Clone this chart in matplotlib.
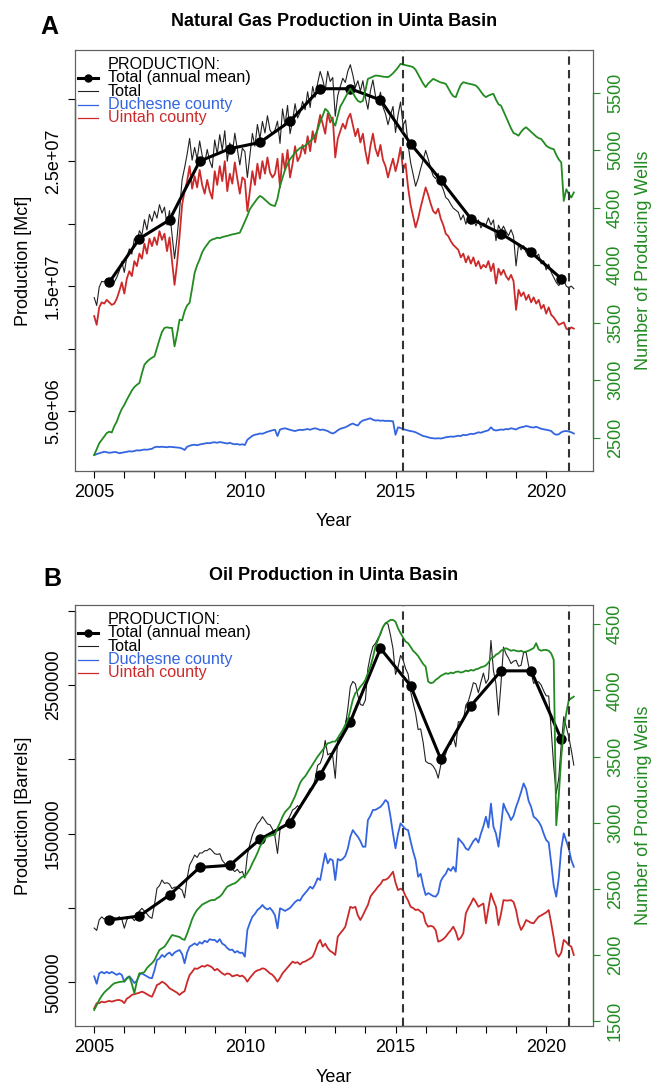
import matplotlib
matplotlib.use("Agg")
import matplotlib.pyplot as plt
from matplotlib.lines import Line2D
import numpy as np

plt.rcParams['font.family'] = ['Liberation Sans', 'DejaVu Sans']

# monthly values, Jan 2005 .. Dec 2020 (one row per year)
years = list(range(2005, 2021))
event_dates = [2015.25, 2020.75]

# natural gas, million Mcf per month
gas_duchesne = [
    1.48, 1.55, 1.62, 1.68, 1.74, 1.70, 1.66, 1.68, 1.72, 1.70, 1.62, 1.66,
    1.70, 1.74, 1.78, 1.76, 1.80, 1.86, 1.84, 1.88, 1.92, 1.90, 1.94, 1.98,
    2.10, 2.14, 2.12, 2.14, 2.12, 2.10, 2.14, 2.12, 2.10, 2.08, 2.06, 2.00,
    1.88, 2.14, 2.22, 2.28, 2.30, 2.26, 2.32, 2.36, 2.40, 2.44, 2.42, 2.48,
    2.50, 2.46, 2.52, 2.48, 2.44, 2.40, 2.46, 2.38, 2.34, 2.36, 2.30, 2.34,
    2.28, 2.70, 2.86, 3.02, 3.10, 3.14, 3.20, 3.18, 3.26, 3.34, 3.40, 3.46,
    3.50, 3.00, 3.52, 3.58, 3.62, 3.56, 3.50, 3.44, 3.40, 3.46, 3.50, 3.48,
    3.52, 3.56, 3.50, 3.58, 3.62, 3.56, 3.48, 3.52, 3.46, 3.40, 3.28, 3.20,
    3.30, 3.46, 3.58, 3.64, 3.70, 3.80, 3.92, 4.00, 3.90, 3.84, 4.10, 4.24,
    4.30, 4.36, 4.42, 4.30, 4.24, 4.26, 4.22, 4.24, 4.20, 4.22, 4.20, 4.18,
    3.10, 3.70, 3.64, 3.56, 3.50, 3.44, 3.40, 3.36, 3.30, 3.20, 3.10, 3.00,
    2.96, 2.90, 2.84, 2.82, 2.80, 2.82, 2.80, 2.84, 2.90, 2.92, 2.96, 2.94,
    2.98, 3.02, 3.00, 3.10, 3.06, 3.12, 3.18, 3.16, 3.22, 3.30, 3.26, 3.34,
    3.40, 3.46, 3.70, 3.50, 3.44, 3.48, 3.52, 3.50, 3.56, 3.54, 3.62, 3.58,
    3.52, 3.64, 3.70, 3.74, 3.80, 3.76, 3.70, 3.68, 3.74, 3.66, 3.58, 3.54,
    3.50, 3.46, 3.40, 3.20, 3.10, 3.14, 3.30, 3.38, 3.40, 3.36, 3.30, 3.20,
]
gas_uintah = [
    12.6, 11.9, 13.3, 13.7, 13.6, 13.9, 13.7, 13.5, 13.6, 14.0, 14.6, 15.3,
    14.4, 15.6, 16.2, 15.8, 17.0, 16.6, 17.6, 17.2, 18.4, 17.6, 18.8, 18.2,
    18.9, 18.3, 19.4, 18.7, 19.2, 17.8, 18.9, 17.0, 15.1, 16.8, 19.0, 21.5,
    22.6, 23.4, 24.6, 22.8, 23.8, 22.9, 24.3, 23.1, 22.4, 23.5, 22.6, 22.0,
    24.2, 23.1, 24.6, 23.4, 25.0, 22.6, 24.0, 23.2, 24.9, 23.6, 22.4, 23.7,
    23.5, 21.0, 22.6, 24.2, 23.1, 24.8, 23.6, 25.0, 24.0, 25.3, 24.1, 23.7,
    24.0, 25.2, 22.9, 25.6, 24.3, 25.9, 23.7, 24.8, 26.2, 25.0, 25.4, 26.3,
    25.6, 27.0, 25.8, 27.4, 26.5, 27.7, 28.7, 28.0, 27.2, 28.8, 28.1, 28.5,
    25.3, 26.8, 27.4, 28.0, 27.6, 28.4, 28.8, 27.9, 27.0, 27.6, 26.5, 27.2,
    25.8, 24.8, 26.2, 27.2, 26.0, 25.4, 26.3, 25.1, 24.6, 23.7, 24.5, 25.2,
    24.2, 25.0, 26.1, 24.3, 24.8, 22.9, 21.5, 20.6, 19.7, 20.4, 21.3, 22.1,
    22.9, 22.3, 21.6, 21.0, 20.8, 21.2, 20.4, 19.9, 19.2, 19.0, 18.6, 18.3,
    18.1, 17.9, 17.3, 17.6, 16.9, 17.4, 16.8, 17.3, 16.6, 17.0, 16.4, 16.7,
    16.5, 17.0, 16.2, 16.8, 15.2, 16.4, 15.9, 16.3, 15.8, 15.5, 15.9, 15.4,
    13.1, 14.7, 14.2, 14.5, 13.9, 14.3, 13.7, 14.1, 13.6, 13.9, 13.2, 13.5,
    12.8, 13.3, 12.7, 12.5, 12.2, 11.9, 12.0, 12.1, 11.6, 11.5, 11.7, 11.6,
]
gas_wells = [
    2349, 2400, 2451, 2480, 2510, 2540, 2552, 2545, 2600, 2640, 2700, 2750,
    2785, 2830, 2870, 2910, 2940, 2960, 2975, 3060, 3134, 3160, 3180, 3195,
    3207, 3280, 3353, 3420, 3455, 3460, 3455, 3455, 3294, 3400, 3527, 3520,
    3600, 3650, 3673, 3800, 3934, 4000, 4051, 4112, 4150, 4180, 4210, 4224,
    4230, 4240, 4235, 4245, 4250, 4255, 4262, 4268, 4272, 4278, 4283, 4330,
    4380, 4430, 4487, 4520, 4550, 4580, 4603, 4590, 4570, 4550, 4530, 4520,
    4515, 4580, 4690, 4760, 4830, 4880, 4923, 4950, 4980, 5000, 5020, 5030,
    5039, 5060, 5080, 5100, 5130, 5180, 5250, 5300, 5360, 5340, 5300, 5250,
    5214, 5300, 5380, 5418, 5460, 5500, 5534, 5500, 5460, 5430, 5418, 5430,
    5520, 5621, 5630, 5640, 5650, 5648, 5645, 5640, 5638, 5636, 5650, 5670,
    5694, 5720, 5752, 5745, 5740, 5735, 5730, 5723, 5700, 5660, 5620, 5580,
    5549, 5580, 5600, 5621, 5610, 5600, 5590, 5585, 5578, 5540, 5500, 5470,
    5462, 5520, 5570, 5592, 5585, 5580, 5575, 5570, 5563, 5540, 5510, 5480,
    5462, 5475, 5485, 5490, 5440, 5400, 5388, 5340, 5290, 5240, 5190, 5150,
    5140, 5127, 5160, 5185, 5200, 5180, 5160, 5140, 5120, 5105, 5098, 5070,
    5040, 5025, 5015, 5010, 4960, 4920, 4894, 4559, 4661, 4620, 4589, 4633,
]
gas_annual_mean = [15.3, 18.8, 20.3, 25.0, 26.0, 26.5, 28.2, 30.8,
                   30.8, 29.9, 26.4, 23.5, 20.4, 19.2, 17.7, 15.6]

# oil, million barrels per month
oil_duchesne = [
    0.54, 0.49, 0.56, 0.57, 0.56, 0.57, 0.56, 0.57, 0.56, 0.55, 0.56, 0.55,
    0.504, 0.53, 0.54, 0.52, 0.495, 0.51, 0.55, 0.56, 0.55, 0.54, 0.53, 0.527,
    0.58, 0.65, 0.66, 0.684, 0.67, 0.69, 0.70, 0.68, 0.70, 0.71, 0.717, 0.69,
    0.628, 0.70, 0.74, 0.75, 0.762, 0.75, 0.77, 0.76, 0.78, 0.77, 0.79, 0.785,
    0.785, 0.77, 0.79, 0.76, 0.75, 0.73, 0.717, 0.72, 0.70, 0.71, 0.697, 0.70,
    0.672, 0.852, 0.90, 0.941, 0.96, 0.986, 1.00, 1.02, 1.00, 0.99, 1.00, 0.98,
    0.95, 0.863, 0.998, 0.99, 0.98, 0.99, 1.00, 1.02, 1.04, 1.053, 1.05, 1.08,
    1.10, 1.12, 1.143, 1.13, 1.16, 1.20, 1.188, 1.28, 1.367, 1.30, 1.33, 1.32,
    1.188, 1.33, 1.32, 1.33, 1.35, 1.40, 1.479, 1.524, 1.50, 1.479, 1.45, 1.412,
    1.412, 1.591, 1.62, 1.659, 1.66, 1.67, 1.68, 1.70, 1.726, 1.71, 1.614, 1.50,
    1.401, 1.50, 1.569, 1.55, 1.53, 1.524, 1.45, 1.38, 1.322, 1.21, 1.23, 1.15,
    1.087, 1.10, 1.09, 1.08, 1.076, 1.10, 1.18, 1.21, 1.23, 1.266, 1.25, 1.277,
    1.244, 1.468, 1.45, 1.43, 1.40, 1.39, 1.42, 1.45, 1.468, 1.44, 1.50, 1.55,
    1.614, 1.54, 1.702, 1.546, 1.50, 1.412, 1.55, 1.702, 1.66, 1.63, 1.591, 1.62,
    1.68, 1.726, 1.78, 1.838, 1.80, 1.72, 1.68, 1.614, 1.60, 1.58, 1.55, 1.50,
    1.457, 1.44, 1.30, 1.15, 1.076, 1.20, 1.40, 1.502, 1.45, 1.40, 1.322, 1.277,
]
oil_uintah = [
    0.325, 0.359, 0.36, 0.37, 0.365, 0.37, 0.375, 0.37, 0.375, 0.38, 0.381, 0.375,
    0.36, 0.39, 0.40, 0.415, 0.42, 0.425, 0.43, 0.437, 0.43, 0.42, 0.41, 0.403,
    0.44, 0.482, 0.49, 0.504, 0.495, 0.48, 0.46, 0.45, 0.44, 0.43, 0.415, 0.43,
    0.44, 0.50, 0.549, 0.57, 0.594, 0.59, 0.60, 0.61, 0.605, 0.616, 0.61, 0.60,
    0.58, 0.59, 0.575, 0.56, 0.55, 0.56, 0.555, 0.54, 0.545, 0.55, 0.54, 0.545,
    0.53, 0.504, 0.53, 0.55, 0.57, 0.58, 0.585, 0.594, 0.59, 0.575, 0.56, 0.55,
    0.53, 0.504, 0.53, 0.56, 0.58, 0.60, 0.62, 0.639, 0.63, 0.635, 0.62, 0.635,
    0.64, 0.65, 0.66, 0.672, 0.71, 0.76, 0.785, 0.74, 0.76, 0.73, 0.71, 0.70,
    0.684, 0.807, 0.83, 0.85, 0.874, 0.94, 1.008, 1.00, 1.008, 0.95, 0.919, 0.95,
    0.986, 1.02, 1.076, 1.10, 1.12, 1.143, 1.16, 1.188, 1.19, 1.20, 1.22, 1.244,
    1.17, 1.12, 1.13, 1.12, 1.08, 1.05, 1.008, 1.00, 0.986, 0.99, 0.975, 0.964,
    0.90, 0.874, 0.88, 0.874, 0.85, 0.773, 0.78, 0.79, 0.807, 0.83, 0.85, 0.874,
    0.84, 0.785, 0.80, 0.83, 0.964, 1.00, 1.03, 1.065, 1.04, 1.008, 1.02, 1.03,
    0.897, 1.00, 1.098, 1.05, 1.008, 0.885, 0.96, 1.053, 1.05, 1.05, 1.053, 1.04,
    0.986, 0.90, 0.852, 0.88, 0.919, 0.91, 0.90, 0.897, 0.92, 0.941, 0.95, 0.96,
    0.97, 0.986, 0.897, 0.80, 0.695, 0.672, 0.70, 0.785, 0.77, 0.75, 0.74, 0.684,
]
oil_wells = [
    1583, 1620, 1659, 1690, 1715, 1734, 1750, 1770, 1785, 1790, 1795, 1797,
    1800, 1820, 1835, 1780, 1710, 1800, 1861, 1862, 1870, 1900, 1920, 1937,
    1960, 2000, 2037, 2050, 2062, 2090, 2120, 2150, 2145, 2140, 2135, 2120,
    2113, 2160, 2213, 2270, 2310, 2340, 2360, 2380, 2390, 2400, 2410, 2415,
    2415, 2430, 2440, 2460, 2490, 2516, 2525, 2535, 2541, 2555, 2575, 2592,
    2592, 2620, 2650, 2693, 2730, 2770, 2818, 2850, 2880, 2894, 2900, 2907,
    2907, 2960, 3000, 3045, 3080, 3100, 3121, 3160, 3200, 3250, 3300, 3330,
    3350, 3380, 3410, 3440, 3470, 3500, 3525, 3550, 3575, 3600, 3605, 3613,
    3613, 3640, 3670, 3701, 3740, 3777, 3850, 3930, 3979, 4000, 4029, 4050,
    4080, 4130, 4180, 4250, 4332, 4380, 4433, 4480, 4508, 4520, 4533, 4533,
    4520, 4470, 4433, 4400, 4370, 4357, 4330, 4300, 4282, 4260, 4230, 4200,
    4180, 4067, 4055, 4060, 4080, 4093, 4110, 4120, 4130, 4125, 4135, 4130,
    4140, 4143, 4135, 4140, 4150, 4145, 4155, 4150, 4160, 4165, 4175, 4180,
    4190, 4210, 4243, 4250, 4270, 4280, 4300, 4310, 4319, 4310, 4300, 4305,
    4300, 4295, 4300, 4290, 4294, 4300, 4310, 4320, 4357, 4310, 4300, 4306,
    4306, 4300, 4280, 4231, 2980, 3200, 3499, 3700, 3828, 3928, 3940, 3953,
]
oil_annual_mean = [0.919, 0.946, 1.087, 1.273, 1.287, 1.462, 1.573, 1.894,
                   2.253, 2.746, 2.495, 2.002, 2.360, 2.595, 2.595, 2.136]

gas_ticks = [5e6, 1e7, 1.5e7, 2e7, 2.5e7, 3e7]
gas_ticklabels = ['5.0e+06', '', '1.5e+07', '', '2.5e+07', '']
oil_ticks = [5e5, 1e6, 1.5e6, 2e6, 2.5e6, 3e6]
oil_ticklabels = ['500000', '', '1500000', '', '2500000', '']
gas_well_ticks = [2500, 3000, 3500, 4000, 4500, 5000, 5500]
oil_well_ticks = [1500, 2000, 2500, 3000, 3500, 4000, 4500]
year_labels = [str(y) if y % 5 == 0 else '' for y in years]

BLUE = '#3465e0'
RED = '#cc2a2a'
GREEN = '#228b22'
BOX = '#606060'

W, H = 654, 1084
fig = plt.figure(figsize=(W / 100, H / 100), dpi=100)


def fx(x):
    return x / W


def fy(y):
    return 1 - y / H


t = 2005 + np.arange(len(gas_duchesne)) / 12
t_mid = np.array(years) + 0.5
span = t[-1] - t[0]
xlim = (t[0] - 0.04 * span, t[-1] + 0.04 * span)


def panel(top, bottom, duch, uint, wells, annual, scale, ylim, yticks, ylabels,
          wlim, wticks, title, letter, letter_xy, ylabel):
    ax = fig.add_axes([fx(75), fy(bottom), fx(593) - fx(75), fy(top) - fy(bottom)])
    duch = np.array(duch) * scale
    uint = np.array(uint) * scale
    total = duch + uint
    ax.plot(t, total, color='#222222', lw=0.8)
    ax.plot(t, duch, color=BLUE, lw=1.3)
    ax.plot(t, uint, color=RED, lw=1.3)
    ax.plot(t_mid, np.array(annual) * scale, color='black', lw=2.2,
            marker='o', ms=6.5)

    # R style axis lines (tick range only)
    ax.plot([years[0], years[-1]], [ylim[0], ylim[0]], color='black', lw=0.9, clip_on=False)
    ax.plot([xlim[0], xlim[0]], [yticks[0], yticks[-1]], color='black', lw=0.9, clip_on=False)
    ax.set_xlim(xlim)
    ax.set_ylim(ylim)

    ax.set_xticks(years)
    ax.set_xticklabels(year_labels)
    ax.tick_params(axis='x', direction='out', length=5, width=0.8, pad=4.5, labelsize=13)
    ax.set_yticks(yticks)
    ax.set_yticklabels(ylabels, rotation=90, va='center')
    ax.tick_params(axis='y', direction='out', length=5, width=0.8, pad=4.3, labelsize=13)

    ax2 = ax.twinx()
    ax2.plot(t, wells, color=GREEN, lw=1.3)
    ax2.plot([xlim[1], xlim[1]], [wticks[0], wticks[-1]], color=GREEN, lw=0.9, clip_on=False)
    ax2.set_ylim(wlim)
    ax2.set_xlim(xlim)
    ax2.set_yticks(wticks)
    ax2.set_yticklabels([str(w) for w in wticks], rotation=90, va='center')
    ax2.tick_params(axis='y', direction='out', length=5, width=0.8, pad=5,
                    labelsize=13, colors=GREEN)
    for d in event_dates:
        ax2.axvline(d, color='#333333', lw=1.5, ls=(0, (4, 2.5)))

    for a in (ax, ax2):
        for s in a.spines.values():
            s.set_color(BOX)
            s.set_linewidth(0.8)

    # legend
    tr = ax2.transAxes
    ly = [0.9667, 0.9335, 0.9026, 0.870, 0.8385]
    ax2.text(0.0637, ly[0], 'PRODUCTION:', transform=tr, va='center', fontsize=11.6)
    ax2.add_line(Line2D([0.0058, 0.0444], [ly[1]] * 2, transform=tr, color='black', lw=2.2))
    ax2.add_line(Line2D([0.0253], [ly[1]], transform=tr, color='black', marker='o', ms=5))
    ax2.text(0.0637, ly[1], 'Total (annual mean)', transform=tr, va='center', fontsize=11.6)
    ax2.add_line(Line2D([0.0058, 0.0444], [ly[2]] * 2, transform=tr, color='#222222', lw=0.8))
    ax2.text(0.0637, ly[2], 'Total', transform=tr, va='center', fontsize=11.6)
    ax2.add_line(Line2D([0.0058, 0.0444], [ly[3]] * 2, transform=tr, color=BLUE, lw=0.9))
    ax2.text(0.0637, ly[3], 'Duchesne county', transform=tr, va='center', fontsize=11.6, color=BLUE)
    ax2.add_line(Line2D([0.0058, 0.0444], [ly[4]] * 2, transform=tr, color=RED, lw=0.9))
    ax2.text(0.0637, ly[4], 'Uintah county', transform=tr, va='center', fontsize=11.6, color=RED)

    mid = (top + bottom) / 2
    fig.text(fx(334), fy(top - 29), title, ha='center', va='center',
             fontsize=13, fontweight='bold')
    fig.text(fx(letter_xy[0]), fy(letter_xy[1]), letter, ha='center', va='center',
             fontsize=18, fontweight='bold')
    fig.text(fx(24), fy(mid), ylabel, rotation=90, ha='center', va='center', fontsize=13)
    fig.text(fx(643), fy(mid), 'Number of Producing Wells', rotation=90,
             ha='center', va='center', fontsize=13, color=GREEN)
    fig.text(fx(334), fy(bottom + 51), 'Year', ha='center', va='center', fontsize=13)


panel(50, 471, gas_duchesne, gas_uintah, gas_wells, gas_annual_mean, 1e6,
      (0.2e6, 3.39e7), gas_ticks, gas_ticklabels, (2210, 5872), gas_well_ticks,
      'Natural Gas Production in Uinta Basin', 'A', (49, 27.5), 'Production [Mcf]')
panel(605, 1026, oil_duchesne, oil_uintah, oil_wells, oil_annual_mean, 1e6,
      (0.206e6, 3.038e6), oil_ticks, oil_ticklabels, (1462, 4646), oil_well_ticks,
      'Oil Production in Uinta Basin', 'B', (52.5, 578.5), 'Production [Barrels]')

fig.savefig('out.png', dpi=100)
